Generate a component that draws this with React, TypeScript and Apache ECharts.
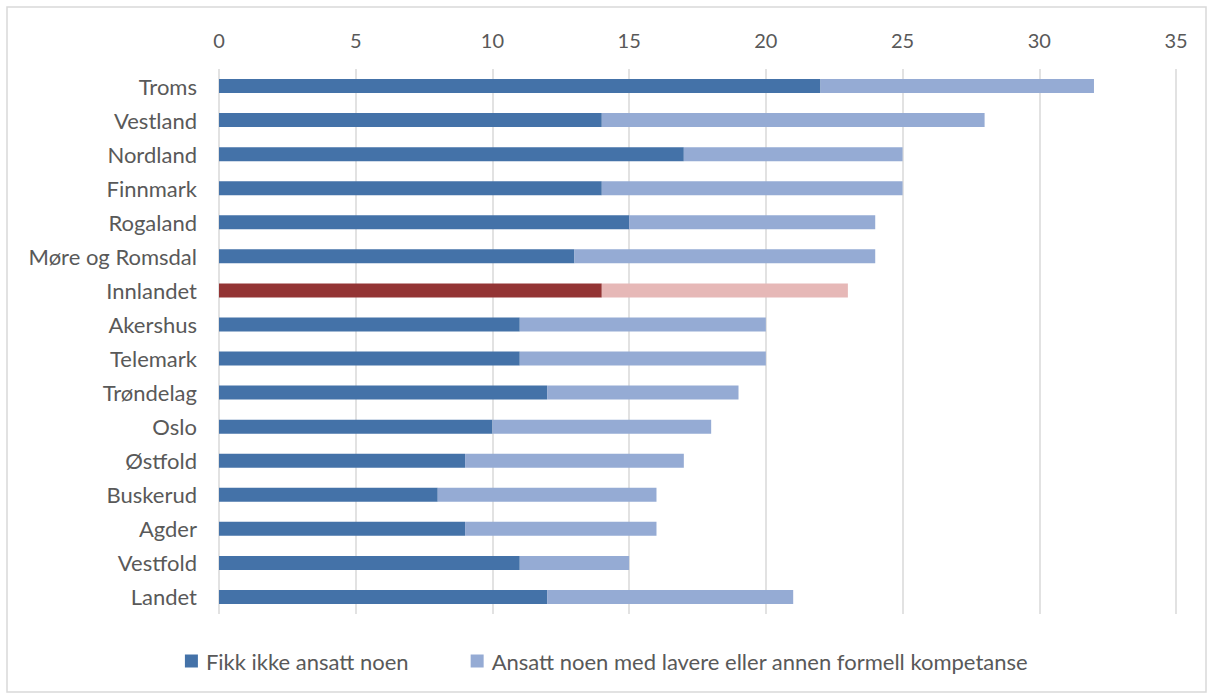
import React, { useEffect, useRef } from "react";
import * as echarts from "echarts";

// Counties, listed top to bottom as drawn
const categories = [
  "Troms",
  "Vestland",
  "Nordland",
  "Finnmark",
  "Rogaland",
  "Møre og Romsdal",
  "Innlandet",
  "Akershus",
  "Telemark",
  "Trøndelag",
  "Oslo",
  "Østfold",
  "Buskerud",
  "Agder",
  "Vestfold",
  "Landet",
];

const fikkIkkeAnsatt = [22, 14, 17, 14, 15, 13, 14, 11, 11, 12, 10, 9, 8, 9, 11, 12];
const ansattLavere = [10, 14, 8, 11, 9, 11, 9, 9, 9, 7, 8, 8, 8, 7, 4, 9];

const xTicks = { min: 0, max: 35, interval: 5 };

const seriesNames = [
  "Fikk ikke ansatt noen",
  "Ansatt noen med lavere eller annen formell kompetanse",
];

const highlighted = "Innlandet";

const COLORS = {
  dark: "#4472A8",
  light: "#95ABD4",
  darkHi: "#933434",
  lightHi: "#E6B8B7",
  text: "#595959",
  grid: "#D9D9D9",
};

const FONT = "Lato, 'Open Sans', sans-serif";

export default function App() {
  const ref = useRef<HTMLDivElement>(null);

  useEffect(() => {
    if (!ref.current) return;
    const chart = echarts.init(ref.current, null, { renderer: "svg" });

    const buildData = (vals: number[], normal: string, hi: string) =>
      vals.map((v, i) =>
        categories[i] === highlighted
          ? { value: v, itemStyle: { color: hi } }
          : { value: v, itemStyle: { color: normal } }
      );

    chart.setOption({
      animation: false,
      backgroundColor: "#ffffff",
      textStyle: { fontFamily: FONT },
      graphic: [
        {
          type: "rect",
          shape: { x: 7, y: 7, width: 1199, height: 685 },
          style: { fill: "none", stroke: "#D9D9D9", lineWidth: 1.5 },
          silent: true,
        },
      ],
      grid: { left: 219, right: 37, top: 69, bottom: 85, containLabel: false },
      legend: {
        bottom: 22,
        left: "center",
        itemWidth: 13,
        itemHeight: 13,
        itemGap: 62,
        icon: "rect",
        textStyle: { color: COLORS.text, fontSize: 22, fontFamily: FONT, padding: [0, 0, 0, 3] },
        data: [
          { name: seriesNames[0], itemStyle: { color: COLORS.dark } },
          { name: seriesNames[1], itemStyle: { color: COLORS.light } },
        ],
      },
      xAxis: {
        type: "value",
        position: "top",
        min: xTicks.min,
        max: xTicks.max,
        interval: xTicks.interval,
        axisLine: { show: false },
        axisTick: { show: false },
        axisLabel: { color: COLORS.text, fontSize: 20, margin: 19, fontFamily: FONT },
        splitLine: { show: true, lineStyle: { color: COLORS.grid, width: 1.5 } },
      },
      yAxis: {
        type: "category",
        data: categories,
        inverse: true,
        axisLine: { show: false },
        axisTick: { show: false },
        axisLabel: { color: COLORS.text, fontSize: 22, margin: 22, fontFamily: FONT },
        splitLine: { show: false },
      },
      series: [
        {
          name: seriesNames[0],
          type: "bar",
          stack: "total",
          barWidth: 14,
          data: buildData(fikkIkkeAnsatt, COLORS.dark, COLORS.darkHi),
        },
        {
          name: seriesNames[1],
          type: "bar",
          stack: "total",
          barWidth: 14,
          data: buildData(ansattLavere, COLORS.light, COLORS.lightHi),
        },
      ],
    });

    return () => chart.dispose();
  }, []);

  return (
    <div
      ref={ref}
      style={{ position: "absolute", left: 0, top: 0, width: 1213, height: 699 }}
    />
  );
}
